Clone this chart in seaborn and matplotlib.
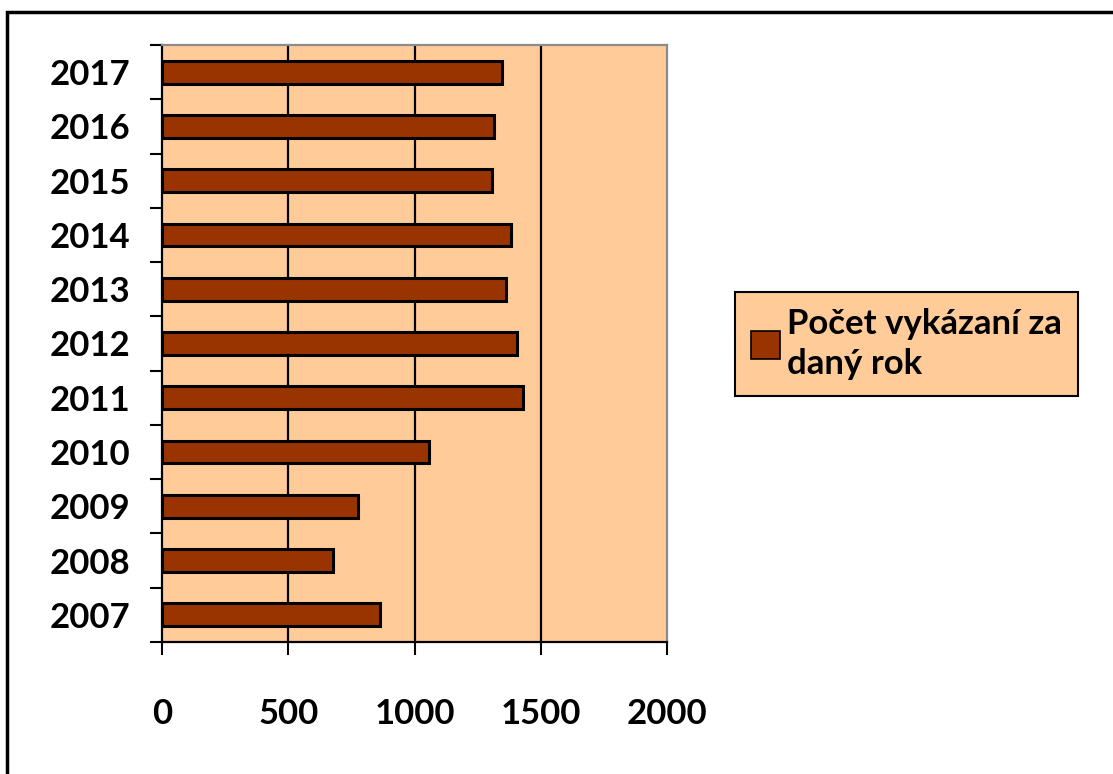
import matplotlib
matplotlib.use("Agg")
import matplotlib.pyplot as plt
import matplotlib.patches as mpatches
import seaborn as sns
import pandas as pd

# values
years = ["2017", "2016", "2015", "2014", "2013", "2012", "2011", "2010", "2009", "2008", "2007"]
counts = [1347, 1315, 1306, 1381, 1361, 1404, 1428, 1057, 777, 679, 862]
x_ticks = [0, 500, 1000, 1500, 2000]
series_name = "Počet vykázaní za\ndaný rok"

bar_color = "#993300"
plot_bg = "#FFCC99"
WEIGHT = "bold"

sns.set_style("white")
plt.rcParams["font.family"] = ["Lato", "DejaVu Sans"]
plt.rcParams["font.weight"] = WEIGHT
plt.rcParams["text.color"] = "black"
plt.rcParams["xtick.color"] = "black"
plt.rcParams["ytick.color"] = "black"
plt.rcParams["xtick.labelcolor"] = "black"
plt.rcParams["ytick.labelcolor"] = "black"

df = pd.DataFrame({"year": years, "count": counts})

W, H = 1113, 774
fig = plt.figure(figsize=(W / 100, H / 100), dpi=100)
# axes placed in pixel terms of the reference
left, right, top, bottom = 162, 667, 45, 642
ax = fig.add_axes([left / W, 1 - bottom / H, (right - left) / W, (bottom - top) / H])
ax.set_facecolor(plot_bg)

sns.barplot(data=df, x="count", y="year", order=years, orient="h",
            color=bar_color, edgecolor="black", linewidth=2.2, width=0.42,
            saturation=1, ax=ax)

ax.set_xlim(0, 2000)
ax.set_ylim(len(years) - 0.5, -0.5)
ax.set_xticks(x_ticks)
ax.set_xticklabels([str(t) for t in x_ticks])
ax.set_xlabel("")
ax.set_ylabel("")

# vertical gridlines
ax.set_axisbelow(True)
for t in x_ticks[1:-1]:
    ax.axvline(t, color="black", linewidth=1.6, zorder=0.5)

# category boundary ticks on the left axis
ax.set_yticks([i - 0.5 for i in range(len(years) + 1)], minor=True)
ax.tick_params(axis="y", which="minor", length=9, width=1.5, color="black", direction="out", left=True)
ax.tick_params(axis="y", which="major", length=0, pad=23, labelsize=25, labelcolor="black")
ax.tick_params(axis="x", which="major", length=9, width=1.5, color="black", direction="out",
               bottom=True, pad=31, labelsize=25, labelcolor="black")

for lab in ax.get_xticklabels() + ax.get_yticklabels():
    lab.set_fontweight(WEIGHT)

for side in ["left", "bottom"]:
    ax.spines[side].set_color("black")
    ax.spines[side].set_linewidth(1.6)
for side in ["top", "right"]:
    ax.spines[side].set_color("#8c8c8c")
    ax.spines[side].set_linewidth(1.6)

# legend box
handle = mpatches.Patch(facecolor=bar_color, edgecolor="black", linewidth=1.2, label=series_name)
leg = fig.legend(handles=[handle], loc="center left",
                 bbox_to_anchor=(735 / W, 1 - 344 / H), frameon=True, fancybox=False,
                 fontsize=25, handlelength=0.85, handleheight=0.85, handletextpad=0.2,
                 borderpad=0.45, labelspacing=0.2, borderaxespad=0)
leg.get_frame().set_facecolor(plot_bg)
leg.get_frame().set_edgecolor("black")
leg.get_frame().set_linewidth(1.5)
leg.get_frame().set_alpha(1)
for txt in leg.get_texts():
    txt.set_fontweight(WEIGHT)
    txt.set_color("black")
    txt.set_linespacing(1.3)

# outer chart frame (only left and top sides visible)
frame = mpatches.Rectangle((7 / W, -0.1), 1.2, 1 - 12 / H + 0.1, transform=fig.transFigure,
                           fill=False, edgecolor="black", linewidth=2.5, clip_on=False)
fig.patches.append(frame)

fig.savefig("out.png", dpi=100, facecolor="white")
